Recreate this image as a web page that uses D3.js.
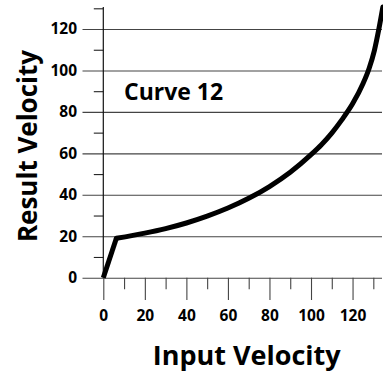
<!DOCTYPE html>
<html>
<head>
<meta charset="utf-8">
<script src="https://cdn.jsdelivr.net/npm/d3@7"></script>
<style>
  html, body { margin: 0; padding: 0; background: #fff; }
  svg { display: block; }
  text { font-family: "Open Sans", sans-serif; font-weight: 700; fill: #000; }
</style>
</head>
<body>
<svg id="chart" width="383" height="373"></svg>
<script>
// ---- data ----
const inputVelocity  = [0, 6.3, 20, 30, 40, 50, 60, 70, 80, 90, 100, 105, 110, 115, 120, 125, 128, 130.5, 132.6, 134.6];
const resultVelocity = [0, 19, 21.5, 23.7, 26.4, 29.7, 33.6, 38.3, 44.0, 50.9, 59.4, 64.2, 69.8, 76.4, 83.9, 93.6, 101.1, 109.6, 119.6, 130.6];
const xMajorTicks = [0, 20, 40, 60, 80, 100, 120];
const xMinorTicks = [10, 30, 50, 70, 90, 110, 130];
const yMajorTicks = [0, 20, 40, 60, 80, 100, 120];
const yMinorTicks = [10, 30, 50, 70, 90, 110, 130];
const xTitle = "Input Velocity";
const yTitle = "Result Velocity";
const curveLabel = "Curve 12";

// ---- layout ----
const svg = d3.select("#chart");
const x = d3.scaleLinear().domain([0, 134.66]).range([103.3, 383]);
const y = d3.scaleLinear().domain([0, 130]).range([277.7, 8.3]);
const gridLeft = 82.5, gridRight = 382;
const axisX = x(0);

// horizontal gridlines (extend left past axis)
svg.append("g")
  .attr("transform", `translate(${gridLeft},0)`)
  .call(d3.axisRight(y).tickValues(yMajorTicks).tickSize(gridRight - gridLeft).tickFormat(""))
  .call(g => g.select(".domain").remove())
  .call(g => g.selectAll("line").attr("stroke", "#444").attr("stroke-width", 1.1));

// y tick labels
svg.append("g")
  .attr("transform", `translate(${gridLeft},0)`)
  .call(d3.axisLeft(y).tickValues(yMajorTicks).tickSize(0).tickPadding(5.5))
  .call(g => g.select(".domain").remove())
  .call(g => g.selectAll("text").attr("font-size", 15.5).attr("font-family", "'Open Sans', sans-serif").attr("font-weight", 700).attr("fill", "#000"));

// y minor ticks
svg.append("g")
  .attr("transform", `translate(${axisX},0)`)
  .call(d3.axisLeft(y).tickValues(yMinorTicks).tickSize(9.5).tickFormat(""))
  .call(g => g.select(".domain").remove())
  .call(g => g.selectAll("line").attr("stroke", "#222").attr("stroke-width", 1.1));

// y axis line
svg.append("line")
  .attr("x1", axisX).attr("x2", axisX)
  .attr("y1", y(130) - 1.3).attr("y2", y(0))
  .attr("stroke", "#111").attr("stroke-width", 1.2);

// x major ticks + labels
svg.append("g")
  .attr("transform", `translate(0,${y(0)})`)
  .call(d3.axisBottom(x).tickValues(xMajorTicks).tickSize(22.3).tickPadding(10))
  .call(g => g.select(".domain").remove())
  .call(g => g.selectAll("line").attr("stroke", "#444").attr("stroke-width", 1.1))
  .call(g => g.selectAll("text").attr("font-size", 15.5).attr("font-family", "'Open Sans', sans-serif").attr("font-weight", 700).attr("fill", "#000"));

// x minor ticks
svg.append("g")
  .attr("transform", `translate(0,${y(0)})`)
  .call(d3.axisBottom(x).tickValues(xMinorTicks).tickSize(11.6).tickFormat(""))
  .call(g => g.select(".domain").remove())
  .call(g => g.selectAll("line").attr("stroke", "#444").attr("stroke-width", 1.1));

// curve
const pts = inputVelocity.map((v, i) => [v, resultVelocity[i]]);
svg.append("clipPath").attr("id", "plotclip")
  .append("rect").attr("x", 0).attr("y", 0).attr("width", 383).attr("height", 373);
const straight = d3.line().x(d => x(d[0])).y(d => y(d[1]));
const smooth = d3.line().x(d => x(d[0])).y(d => y(d[1])).curve(d3.curveMonotoneX);
const g = svg.append("g").attr("clip-path", "url(#plotclip)");
g.append("path").attr("d", straight(pts.slice(0, 2)))
  .attr("fill", "none").attr("stroke", "#000").attr("stroke-width", 5).attr("stroke-linejoin", "round");
g.append("path").attr("d", smooth(pts.slice(1)))
  .attr("fill", "none").attr("stroke", "#000").attr("stroke-width", 5).attr("stroke-linejoin", "round").attr("stroke-linecap", "round");

// curve label
svg.append("text").attr("x", 124).attr("y", 99.5).attr("font-size", 23).text(curveLabel);

// axis titles
svg.append("text").attr("x", 246.7).attr("y", 365).attr("text-anchor", "middle")
  .attr("font-size", 27).text(xTitle);
svg.append("text").attr("transform", "translate(36.5,146) rotate(-90)").attr("text-anchor", "middle")
  .attr("font-size", 26).text(yTitle);
</script>
</body>
</html>
